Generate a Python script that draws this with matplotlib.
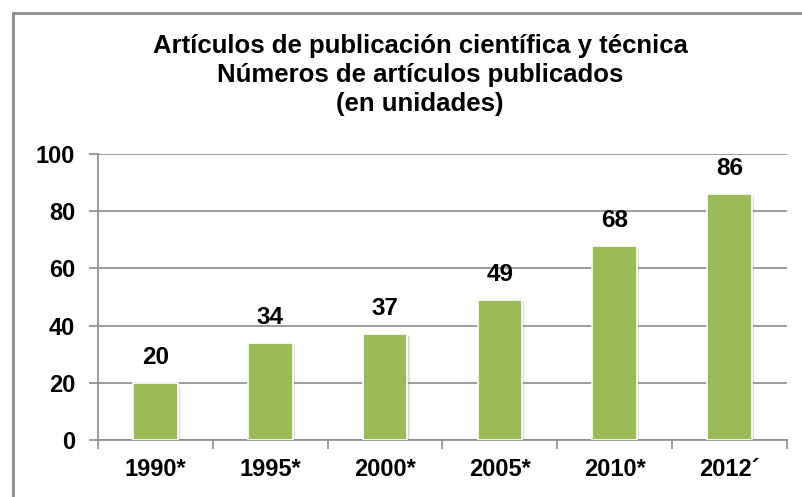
import matplotlib.pyplot as plt
import matplotlib.patheffects as pe
from matplotlib.patches import Rectangle

# Datos del gráfico
anios = ["1990*", "1995*", "2000*", "2005*", "2010*", "2012´"]
articulos = [20, 34, 37, 49, 68, 86]

titulo = ("Artículos de publicación científica y técnica\n"
          "Números de artículos publicados\n"
          "(en unidades)")

plt.rcParams['font.family'] = ['Liberation Sans', 'DejaVu Sans']

fig = plt.figure(figsize=(8.03, 4.97), dpi=100)
fig.patch.set_facecolor("white")

# Marco gris del área del gráfico (se corta a la derecha y abajo)
fig.patches.append(Rectangle((13 / 803, -0.1), 1.2, 1 - 13 / 497 + 0.1,
                             transform=fig.transFigure, fill=False,
                             edgecolor="#8c8c8c", linewidth=2))

ax = fig.add_axes([98 / 803, 1 - 440 / 497, (787 - 98) / 803, (440 - 154) / 497])

x = range(len(anios))
barras = ax.bar(x, articulos, width=0.39, color="#9BBB59", edgecolor="white",
                linewidth=1.2, zorder=3)
for b in barras:
    b.set_path_effects([pe.SimplePatchShadow(offset=(1.5, -1.5), alpha=0.25,
                                             shadow_rgbFace="#777777"),
                        pe.Normal()])

# Etiquetas de valor sobre cada barra
for i, v in enumerate(articulos):
    ax.annotate(f"{v}", (i, v), xytext=(0, 10), textcoords="offset points",
                ha="center", va="bottom", fontsize=17.5, fontweight="bold")

ax.set_xlim(-0.5, len(anios) - 0.5)
ax.set_ylim(0, 100)
ax.set_yticks(range(0, 101, 20))
ax.set_xticks(list(x))
ax.set_xticklabels(anios)
ax.set_xticks([i - 0.5 for i in range(len(anios) + 1)], minor=True)

ax.grid(axis="y", color="#8c8c8c", linewidth=1.2, zorder=0)
for lado in ["top", "right"]:
    ax.spines[lado].set_visible(False)
for lado in ["left", "bottom"]:
    ax.spines[lado].set_color("#8c8c8c")
    ax.spines[lado].set_linewidth(1.2)

ax.tick_params(axis="y", length=6.5, color="#8c8c8c", width=1.2, labelsize=17, pad=10)
ax.tick_params(axis="x", which="major", length=0, labelsize=17, pad=13)
ax.tick_params(axis="x", which="minor", length=6.5, color="#8c8c8c", width=1.2)
for lbl in ax.get_xticklabels() + ax.get_yticklabels():
    lbl.set_fontweight("bold")

fig.text(0.523, 1 - 75 / 497, titulo, ha="center", va="center", fontsize=18.5,
         fontweight="bold", linespacing=1.25)

plt.savefig("out.png", dpi=100)
plt.close()
